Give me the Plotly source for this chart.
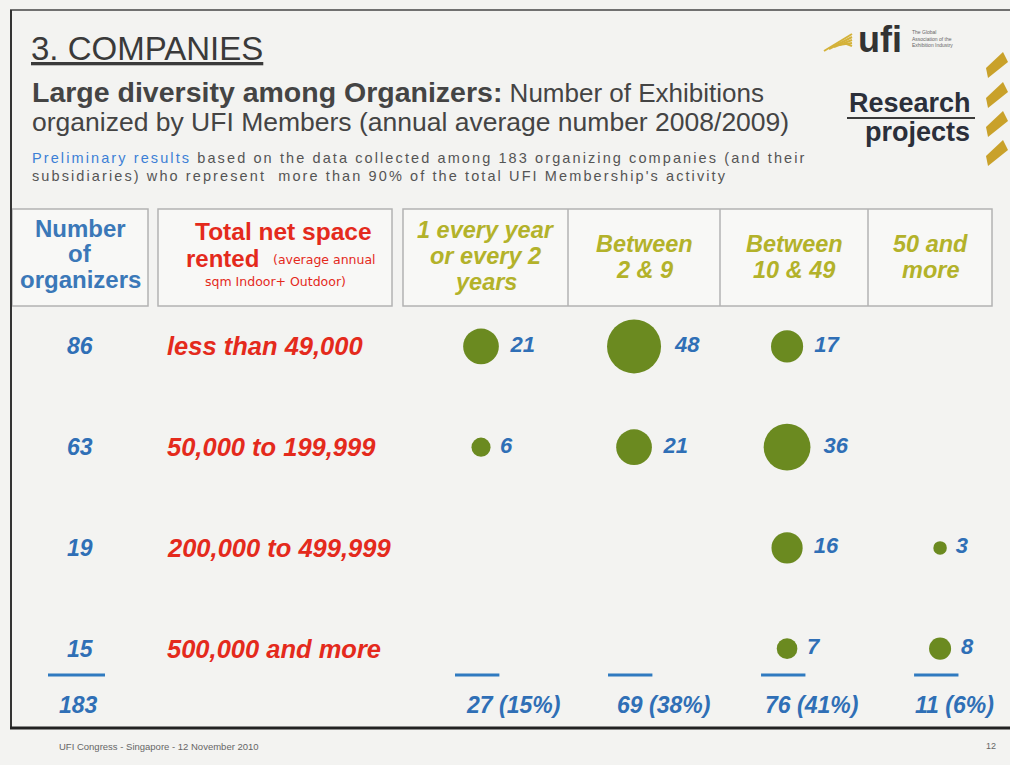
import plotly.graph_objects as go

# Data
freq_cols = ["1 every year or every 2 years", "Between 2 & 9", "Between 10 & 49", "50 and more"]
freq_headers = [["1 every year", "or every 2", "years"], ["Between", "2 & 9"], ["Between", "10 & 49"],
                ["50 and", "more"]]
space_rows = ["less than 49,000", "50,000 to 199,999", "200,000 to 499,999", "500,000 and more"]
n_organizers = [86, 63, 19, 15]
# exhibitions counts per row (None = empty cell)
counts_lt49k = [21, 48, 17, None]
counts_50_199k = [6, 21, 36, None]
counts_200_499k = [None, None, 16, 3]
counts_500k_plus = [None, None, 7, 8]
total_organizers = "183"
col_totals = ["27 (15%)", "69 (38%)", "76 (41%)", "11 (6%)"]

W, H = 1010, 765
BLUE = "#2f6fb6"
RED = "#e42a1c"
OLIVE_TXT = "#b3b22a"
BUBBLE = "#6b8a20"
GRAY = "#3a3a3a"
FONT = "Liberation Sans, Arial, sans-serif"
WIDE = "DejaVu Sans, Verdana, sans-serif"


def px(x):
    return x / W


def py(y):
    return 1 - y / H


ann = []


def note(x, y, text, size, color, xanchor="center", yanchor="middle", xref="paper", yref="paper",
         family=FONT, **kw):
    ann.append(dict(x=x, y=y, xref=xref, yref=yref, text=text, showarrow=False,
                    xanchor=xanchor, yanchor=yanchor,
                    font=dict(family=family, size=size, color=color, **kw.pop("font", {})), **kw))


def stack(x, y0, step, lines, size, color, fmt="%s", **kw):
    for i, s in enumerate(lines):
        note(x, py(y0 + i * step), fmt % s, size, color, **kw)


fig = go.Figure()

# Bubbles
matrix = [counts_lt49k, counts_50_199k, counts_200_499k, counts_500k_plus]
xs, ys, sizes, labels = [], [], [], []
for r, row in enumerate(matrix):
    for c, v in enumerate(row):
        if v is None:
            continue
        xs.append(freq_cols[c])
        ys.append(space_rows[r])
        sizes.append(v)
        labels.append("\u00a0" + str(v))

fig.add_trace(go.Scatter(
    x=xs, y=ys, mode="markers+text",
    marker=dict(size=sizes, sizemode="area", sizeref=2 * 48 / 54 ** 2,
                color=BUBBLE, line=dict(width=0), opacity=1),
    text=labels, textposition="middle right",
    textfont=dict(family=FONT, size=22, color=BLUE, weight="bold", style="italic"),
    hoverinfo="skip", showlegend=False,
))

# Left columns: number of organizers + space class
for r, name in enumerate(space_rows):
    note(px(80), name, "<b><i>%d</i></b>" % n_organizers[r], 23, BLUE, yref="y")
    note(px(165), name, "<b><i>%s</i></b>" % name, 25.5, RED, xanchor="left", yref="y")

# Totals row
note(px(78), py(705), "<b><i>%s</i></b>" % total_organizers, 23, BLUE)
total_shift = [32, 29, 24, 14]
for c, t in enumerate(col_totals):
    note(freq_cols[c], py(705), "<b><i>%s</i></b>" % t, 23, BLUE, xref="x", xshift=total_shift[c])

# Header boxes
box_top, box_bot = 209, 306
dividers = [403, 568, 720, 868, 992]
box_line = dict(color="#b3b3b3", width=1.5)
shapes = [
    dict(type="rect", xref="paper", yref="paper", x0=px(12), x1=px(148), y0=py(box_top), y1=py(box_bot),
         line=box_line, fillcolor="#f8f8f6", layer="below"),
    dict(type="rect", xref="paper", yref="paper", x0=px(158), x1=px(392), y0=py(box_top), y1=py(box_bot),
         line=box_line, fillcolor="#f8f8f6", layer="below"),
    dict(type="rect", xref="paper", yref="paper", x0=px(dividers[0]), x1=px(dividers[-1]), y0=py(box_top),
         y1=py(box_bot), line=box_line, fillcolor="#f8f8f6", layer="below"),
]
for d in dividers[1:-1]:
    shapes.append(dict(type="line", xref="paper", yref="paper", x0=px(d), x1=px(d), y0=py(box_top),
                       y1=py(box_bot), line=box_line))

stack(px(80), 228, 25.5, ["Number", "of", "organizers"], 24, "#3b78b8", fmt="<b>%s</b>")
note(px(283), py(231), "<b>Total net space</b>", 24.5, RED)
note(px(222), py(258), "<b>rented</b>", 24, RED)
note(px(324), py(259), "(average annual", 12.5, RED, family=WIDE)
note(px(275), py(281), "sqm Indoor+ Outdoor)", 12.5, RED, family=WIDE)
for c, h in enumerate(freq_headers):
    cx = (dividers[c] + dividers[c + 1]) / 2
    y0 = 230 if len(h) == 3 else 244
    stack(px(cx), y0, 26, h, 23.5, OLIVE_TXT, fmt="<b><i>%s</i></b>")

# Total underlines
shapes.append(dict(type="line", xref="paper", yref="paper", x0=px(48), x1=px(105), y0=py(675), y1=py(675),
                   line=dict(color="#2f7ac0", width=3)))
for c in range(len(freq_cols)):
    shapes.append(dict(type="line", xref="x", yref="paper", x0=c - 0.17, x1=c + 0.12, y0=py(675), y1=py(675),
                       line=dict(color="#2f7ac0", width=3)))

# Slide frame
shapes += [
    dict(type="line", xref="paper", yref="paper", x0=px(10), x1=1, y0=py(10), y1=py(10),
         line=dict(color="#444", width=1.5)),
    dict(type="line", xref="paper", yref="paper", x0=px(11), x1=px(11), y0=py(10), y1=py(729),
         line=dict(color="#333", width=2)),
    dict(type="line", xref="paper", yref="paper", x0=px(10), x1=1, y0=py(728), y1=py(728),
         line=dict(color="#222", width=3)),
]

# Title block
note(px(29), py(48), "3. COMPANIES", 33, GRAY, xanchor="left", font=dict(lineposition="under"))
note(px(30), py(92), "<span style='font-size:28.5px'><b>Large diversity among Organizers:</b></span> "
                     "Number of Exhibitions", 26, "#444", xanchor="left")
note(px(30), py(122), "organized by UFI Members (annual average number 2008/2009)", 26.5, "#444",
     xanchor="left")
track = "letter-spacing:2.1px"
note(px(30), py(158), "<span style='%s'><span style='color:#3c7fd6'>Preliminary results</span> based on the "
                      "data collected among 183 organizing companies (and their</span>" % track,
     14.5, "#555", xanchor="left")
note(px(30), py(176), "<span style='%s'>subsidiaries) who represent  more than 90%% of the total UFI "
                      "Membership's activity</span>" % track, 14.5, "#555", xanchor="left")

# Logo
for i in range(5):
    shapes.append(dict(type="line", xref="paper", yref="paper",
                       x0=px(824 + i * 5), y0=py(51 - i * 2), x1=px(852), y1=py(34 + i * 3),
                       line=dict(color="#d4b23a", width=2)))
note(px(880), py(39), "<b>ufi</b>", 36, "#333")
note(px(910), py(38), "The Global<br>Association of the<br>Exhibition Industry", 5, "#666",
     xanchor="left", align="left")
note(px(910), py(103), "<b>Research</b>", 27, "#2b2f3a")
note(px(917), py(132), "<b>projects</b>", 27, "#2b2f3a")
shapes.append(dict(type="line", xref="paper", yref="paper", x0=px(847), x1=px(975), y0=py(118), y1=py(118),
                   line=dict(color="#3a3a3a", width=2)))
for y0 in [50, 80, 109, 138]:
    shapes.append(dict(type="path", xref="paper", yref="paper",
                       path="M %f %f L %f %f L %f %f L %f %f Z" % (
                           px(986), py(y0 + 18), px(1003), py(y0 + 2), px(1008), py(y0 + 12),
                           px(988), py(y0 + 28)),
                       fillcolor="#c9a12a", line=dict(width=0)))

# Footer
note(px(57), py(746), "UFI Congress - Singapore - 12 November 2010", 9.5, "#666", xanchor="left")
note(px(991), py(746), "12", 9, "#666")

fig.update_layout(
    width=W, height=H, autosize=False,
    margin=dict(l=0, r=0, t=0, b=0),
    paper_bgcolor="#f3f3f1", plot_bgcolor="rgba(0,0,0,0)",
    xaxis=dict(type="category", categoryorder="array", categoryarray=freq_cols,
               range=[-0.5, 3.3], domain=[px(404.5), px(986)], visible=False, fixedrange=True),
    yaxis=dict(type="category", categoryorder="array", categoryarray=space_rows,
               range=[3.5, -0.5], domain=[py(699), py(296)], visible=False, fixedrange=True),
    annotations=ann, shapes=shapes,
)

fig.write_html("out.html", config={"displayModeBar": False},
               post_script="document.body.style.margin='0px';")
